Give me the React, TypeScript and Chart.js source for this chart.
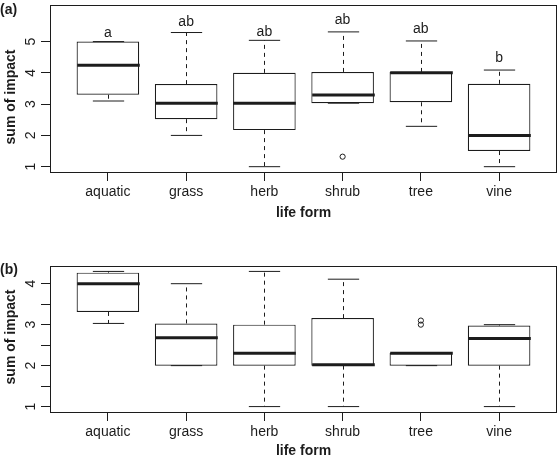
import React, { useEffect, useRef } from "react";
import { Chart, registerables } from "chart.js";

Chart.register(...registerables);

// ---------- data ----------
const categories = ["aquatic", "grass", "herb", "shrub", "tree", "vine"];

// panel (a)
const aLower = [3.1, 2.0, 1.0, 3.03, 2.29, 1.0];
const aQ1 = [3.3, 2.52, 2.17, 3.03, 3.06, 1.5];
const aMedian = [4.24, 3.03, 3.03, 3.29, 4.0, 2.0];
const aQ3 = [5.0, 3.64, 4.0, 4.03, 4.03, 3.65];
const aUpper = [5.0, 5.29, 5.04, 5.31, 5.02, 4.09];
const aOutlierCategory = ["shrub"];
const aOutlierValue = [1.32];
const aLetters = ["a", "ab", "ab", "ab", "ab", "b"];
const aLetterValue = [5.28, 5.63, 5.3, 5.7, 5.39, 4.46];
const aYTicks = [1, 2, 3, 4, 5];
const aYTickLabels = ["1", "2", "3", "4", "5"];

// panel (b)
const bLower = [3.03, 2.0, 1.0, 1.0, 2.0, 1.0];
const bQ1 = [3.31, 2.0, 2.0, 2.0, 2.0, 2.0];
const bMedian = [4.0, 2.68, 2.3, 2.02, 2.3, 2.66];
const bQ3 = [4.27, 3.03, 3.0, 3.16, 2.31, 2.98];
const bUpper = [4.3, 4.0, 4.3, 4.11, 2.31, 3.0];
const bOutlierCategory = ["tree", "tree"];
const bOutlierValue = [3.0, 3.1];
const bLetters: string[] = [];
const bLetterValue: number[] = [];
const bYTicks = [1, 1.5, 2, 2.5, 3, 3.5, 4];
const bYTickLabels = ["1", "", "2", "", "3", "", "4"];

const xTitle = "life form";
const yTitle = "sum of impact";

// ---------- styling ----------
const FONT = "'Liberation Sans', Arial, Helvetica, sans-serif";
const INK = "#1c1c1c";

type PanelData = {
  tag: string;
  lower: number[];
  q1: number[];
  median: number[];
  q3: number[];
  upper: number[];
  outCat: string[];
  outVal: number[];
  letters: string[];
  letterVal: number[];
  yTicks: number[];
  yTickLabels: string[];
};

type PanelLayout = {
  height: number;
  padTop: number;
  xAxisHeight: number;
  yMin: number;
  yMax: number;
  tickPad: number;
  titlePadBottom: number;
  tagBaseline: number;
  yTitleCenter: number;
};

const panelA: PanelData = {
  tag: "(a)",
  lower: aLower,
  q1: aQ1,
  median: aMedian,
  q3: aQ3,
  upper: aUpper,
  outCat: aOutlierCategory,
  outVal: aOutlierValue,
  letters: aLetters,
  letterVal: aLetterValue,
  yTicks: aYTicks,
  yTickLabels: aYTickLabels,
};

const panelB: PanelData = {
  tag: "(b)",
  lower: bLower,
  q1: bQ1,
  median: bMedian,
  q3: bQ3,
  upper: bUpper,
  outCat: bOutlierCategory,
  outVal: bOutlierValue,
  letters: bLetters,
  letterVal: bLetterValue,
  yTicks: bYTicks,
  yTickLabels: bYTickLabels,
};

const layoutA: PanelLayout = {
  height: 230,
  padTop: 5,
  xAxisHeight: 58,
  yMin: 0.83,
  yMax: 6.17,
  tickPad: 3,
  titlePadBottom: 8,
  tagBaseline: 14,
  yTitleCenter: 97,
};

const layoutB: PanelLayout = {
  height: 233,
  padTop: 36,
  xAxisHeight: 51,
  yMin: 0.868,
  yMax: 4.432,
  tickPad: 2.5,
  titlePadBottom: 3,
  tagBaseline: 44,
  yTitleCenter: 107,
};

function line(ctx: CanvasRenderingContext2D, x1: number, y1: number, x2: number, y2: number) {
  ctx.beginPath();
  ctx.moveTo(x1, y1);
  ctx.lineTo(x2, y2);
  ctx.stroke();
}

function makePlugin(p: PanelData, l: PanelLayout) {
  return {
    id: "boxExtras",
    afterDatasetsDraw(chart: any) {
      const ctx: CanvasRenderingContext2D = chart.ctx;
      const xs = chart.scales.x;
      const ys = chart.scales.y;
      const meta = chart.getDatasetMeta(0);
      ctx.save();
      ctx.strokeStyle = INK;
      ctx.lineWidth = 1;
      ctx.lineCap = "butt";
      categories.forEach((_, i) => {
        const el: any = meta.data[i];
        const cx = Math.round(xs.getPixelForValue(i + 1)) + 0.5;
        const half = el.width / 2;
        const cap = half / 2;
        const yLo = ys.getPixelForValue(p.lower[i]);
        const yQ1 = ys.getPixelForValue(p.q1[i]);
        const yMed = ys.getPixelForValue(p.median[i]);
        const yQ3 = ys.getPixelForValue(p.q3[i]);
        const yUp = ys.getPixelForValue(p.upper[i]);
        ctx.lineWidth = 1;
        ctx.setLineDash([4, 4]);
        if (p.upper[i] > p.q3[i]) line(ctx, cx, yQ3, cx, yUp);
        if (p.lower[i] < p.q1[i]) line(ctx, cx, yQ1, cx, yLo);
        ctx.setLineDash([]);
        line(ctx, cx - cap, yUp, cx + cap, yUp);
        line(ctx, cx - cap, yLo, cx + cap, yLo);
        ctx.lineWidth = 3;
        line(ctx, cx - half, yMed, cx + half, yMed);
      });
      // outliers
      ctx.lineWidth = 1;
      p.outCat.forEach((c, k) => {
        const cx = xs.getPixelForValue(categories.indexOf(c) + 1);
        const cy = ys.getPixelForValue(p.outVal[k]);
        ctx.beginPath();
        ctx.arc(cx, cy, 2.6, 0, Math.PI * 2);
        ctx.stroke();
      });
      // letters
      ctx.fillStyle = INK;
      ctx.font = `14px ${FONT}`;
      ctx.textAlign = "center";
      ctx.textBaseline = "middle";
      p.letters.forEach((t, i) => {
        ctx.fillText(t, xs.getPixelForValue(i + 1), ys.getPixelForValue(p.letterVal[i]));
      });
      // frame
      const a = chart.chartArea;
      ctx.lineWidth = 1;
      ctx.strokeStyle = INK;
      ctx.strokeRect(
        Math.round(a.left) + 0.5,
        Math.round(a.top) + 0.5,
        Math.round(a.right - a.left) - 1,
        Math.round(a.bottom - a.top)
      );
      ctx.restore();
    },
    afterDraw(chart: any) {
      const ctx: CanvasRenderingContext2D = chart.ctx;
      const ys = chart.scales.y;
      ctx.save();
      ctx.fillStyle = INK;
      // y tick labels, rotated like R
      ctx.font = `14px ${FONT}`;
      ctx.textAlign = "center";
      ctx.textBaseline = "alphabetic";
      p.yTicks.forEach((v, k) => {
        const lab = p.yTickLabels[k];
        if (!lab) return;
        ctx.save();
        ctx.translate(35, ys.getPixelForValue(v));
        ctx.rotate(-Math.PI / 2);
        ctx.fillText(lab, 0, 0);
        ctx.restore();
      });
      // y title
      ctx.font = `bold 14px ${FONT}`;
      ctx.save();
      ctx.translate(14.5, l.yTitleCenter);
      ctx.rotate(-Math.PI / 2);
      ctx.fillText(yTitle, 0, 0);
      ctx.restore();
      // panel tag
      ctx.textAlign = "left";
      ctx.fillText(p.tag, 0, l.tagBaseline);
      ctx.restore();
    },
  };
}

function makeConfig(p: PanelData, l: PanelLayout): any {
  return {
    type: "bar",
    data: {
      datasets: [
        {
          data: categories.map((_, i) => ({ x: i + 1, y: [p.q1[i], p.q3[i]] })),
          backgroundColor: "#ffffff",
          borderColor: INK,
          borderWidth: 1.2,
          borderSkipped: false,
          categoryPercentage: 0.8,
          barPercentage: 1,
        },
      ],
    },
    options: {
      responsive: false,
      animation: false,
      events: [],
      layout: { padding: { top: l.padTop, right: 2, left: 0, bottom: 0 } },
      plugins: {
        legend: { display: false },
        tooltip: { enabled: false },
        title: { display: false },
      },
      scales: {
        x: {
          type: "linear",
          min: 0.26,
          max: 6.74,
          offset: false,
          afterBuildTicks: (s: any) => {
            s.ticks = categories.map((_, i) => ({ value: i + 1 }));
          },
          afterFit: (s: any) => {
            s.height = l.xAxisHeight;
          },
          ticks: {
            callback: (v: number) => categories[Math.round(v) - 1],
            autoSkip: false,
            maxRotation: 0,
            minRotation: 0,
            padding: l.tickPad,
            color: INK,
            font: { family: FONT, size: 14 },
          },
          grid: {
            offset: false,
            drawOnChartArea: false,
            drawTicks: true,
            tickLength: 9,
            color: INK,
            lineWidth: 1,
          },
          border: { display: false },
          title: {
            display: true,
            text: xTitle,
            color: INK,
            font: { family: FONT, size: 14, weight: "bold" },
            padding: { top: 0, bottom: l.titlePadBottom },
          },
        },
        y: {
          type: "linear",
          min: l.yMin,
          max: l.yMax,
          afterBuildTicks: (s: any) => {
            s.ticks = p.yTicks.map((v) => ({ value: v }));
          },
          afterFit: (s: any) => {
            s.width = 50;
          },
          ticks: { display: false },
          grid: {
            drawOnChartArea: false,
            drawTicks: true,
            tickLength: 9,
            color: INK,
            lineWidth: 1,
          },
          border: { display: false },
        },
      },
    },
    plugins: [makePlugin(p, l)],
  };
}

function Panel({ data, layout }: { data: PanelData; layout: PanelLayout }) {
  const ref = useRef<HTMLCanvasElement | null>(null);
  useEffect(() => {
    if (!ref.current) return;
    const chart = new Chart(ref.current, makeConfig(data, layout));
    return () => chart.destroy();
  }, [data, layout]);
  return (
    <canvas
      ref={ref}
      width={559}
      height={layout.height}
      style={{ display: "block", width: 559, height: layout.height }}
    />
  );
}

export default function App() {
  return (
    <div
      style={{
        position: "absolute",
        left: 0,
        top: 0,
        width: 559,
        height: 463,
        background: "#ffffff",
      }}
    >
      <Panel data={panelA} layout={layoutA} />
      <Panel data={panelB} layout={layoutB} />
    </div>
  );
}
